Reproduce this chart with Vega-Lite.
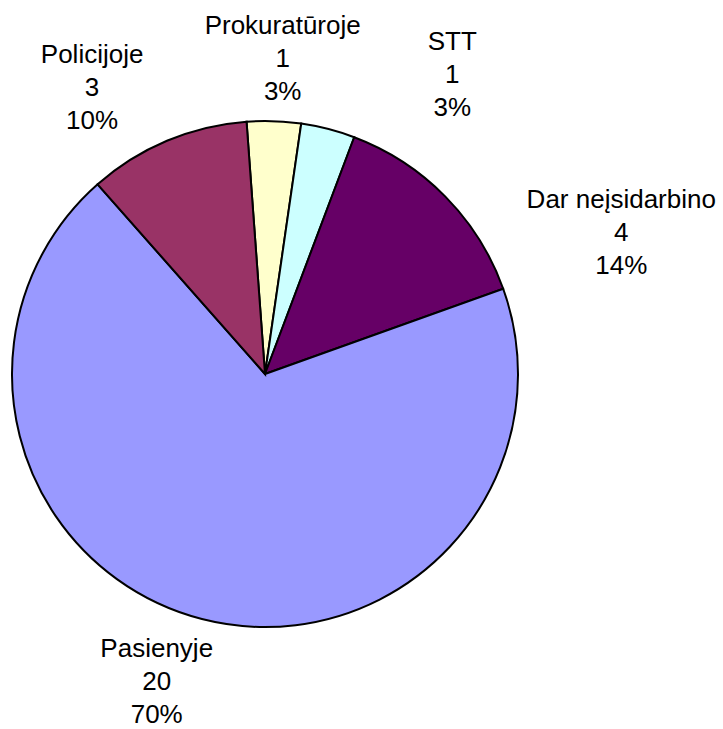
{
  "$schema": "https://vega.github.io/schema/vega-lite/v6.json",
  "width": 530,
  "height": 700,
  "autosize": {"type": "none"},
  "padding": {"left": 0, "top": 24, "right": 193, "bottom": 5},
  "background": "white",
  "config": {"view": {"stroke": null}},
  "data": {
    "values": [
      {"category": "Prokuratūroje", "count": 1, "percent": "3%", "order": 1},
      {"category": "STT", "count": 1, "percent": "3%", "order": 2},
      {"category": "Dar neįsidarbino", "count": 4, "percent": "14%", "order": 3},
      {"category": "Pasienyje", "count": 20, "percent": "70%", "order": 4},
      {"category": "Policijoje", "count": 3, "percent": "10%", "order": 5}
    ]
  },
  "transform": [
    {"calculate": "datum.category + '\\n' + datum.count + '\\n' + datum.percent", "as": "label"}
  ],
  "encoding": {
    "theta": {"field": "count", "type": "quantitative", "stack": true, "scale": {"range": [-0.073, 6.2102]}},
    "order": {"field": "order", "type": "quantitative"}
  },
  "layer": [
    {
      "mark": {"type": "arc", "outerRadius": 253, "stroke": "black", "strokeWidth": 2},
      "encoding": {
        "color": {
          "field": "category", "type": "nominal", "legend": null,
          "scale": {
            "domain": ["Prokuratūroje", "STT", "Dar neįsidarbino", "Pasienyje", "Policijoje"],
            "range": ["#FFFFCC", "#CCFFFF", "#660066", "#9999FF", "#993366"]
          }
        }
      }
    },
    {
      "mark": {"type": "text", "radius": 330, "dx": 6, "dy": -18, "font": "Liberation Sans", "fontSize": 26, "lineBreak": "\n", "lineHeight": 33, "align": "center", "baseline": "middle", "color": "black"},
      "encoding": {"text": {"condition": {"test": "datum.category === 'Prokuratūroje'", "field": "label"}, "value": ""}}
    },
    {
      "mark": {"type": "text", "radius": 330, "dx": 105, "dy": -12, "font": "Liberation Sans", "fontSize": 26, "lineBreak": "\n", "lineHeight": 33, "align": "center", "baseline": "middle", "color": "black"},
      "encoding": {"text": {"condition": {"test": "datum.category === 'STT'", "field": "label"}, "value": ""}}
    },
    {
      "mark": {"type": "text", "radius": 330, "dx": 121, "dy": 57, "font": "Liberation Sans", "fontSize": 26, "lineBreak": "\n", "lineHeight": 33, "align": "center", "baseline": "middle", "color": "black"},
      "encoding": {"text": {"condition": {"test": "datum.category === 'Dar neįsidarbino'", "field": "label"}, "value": ""}}
    },
    {
      "mark": {"type": "text", "radius": 330, "dx": -26, "dy": -45, "font": "Liberation Sans", "fontSize": 26, "lineBreak": "\n", "lineHeight": 33, "align": "center", "baseline": "middle", "color": "black"},
      "encoding": {"text": {"condition": {"test": "datum.category === 'Pasienyje'", "field": "label"}, "value": ""}}
    },
    {
      "mark": {"type": "text", "radius": 330, "dx": -45, "dy": -15, "font": "Liberation Sans", "fontSize": 26, "lineBreak": "\n", "lineHeight": 33, "align": "center", "baseline": "middle", "color": "black"},
      "encoding": {"text": {"condition": {"test": "datum.category === 'Policijoje'", "field": "label"}, "value": ""}}
    }
  ]
}
